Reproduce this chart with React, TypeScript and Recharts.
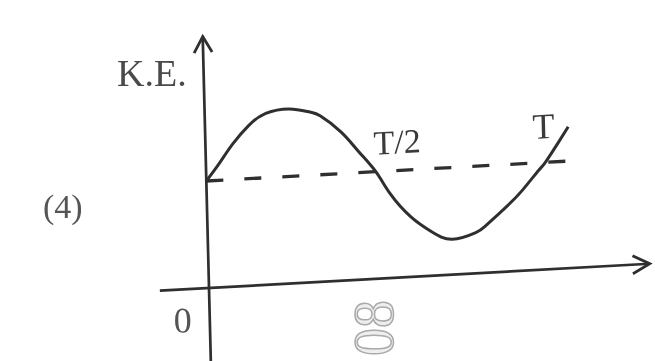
import React from 'react'
import { ComposedChart, Line, XAxis, YAxis, ReferenceLine, ReferenceDot } from 'recharts'

// time as a fraction of the period T, kinetic energy relative to the dashed mean level
const TIME = [0, 0.04, 0.08, 0.13, 0.18, 0.25, 0.31, 0.34, 0.4, 0.45, 0.5, 0.54, 0.6, 0.66, 0.72, 0.79, 0.82, 0.88, 0.93, 0.98, 1.0, 1.04, 1.07]
const KE = [1.0, 1.16, 1.33, 1.5, 1.6, 1.63, 1.59, 1.55, 1.39, 1.2, 1.0, 0.79, 0.56, 0.41, 0.33, 0.38, 0.44, 0.6, 0.75, 0.93, 1.0, 1.18, 1.32]

const MEAN_KE = 1
const DASH_END = 1.11
const X_AXIS_RANGE = [-0.145, 1.3]
const Y_AXIS_RANGE = [-0.7, 2.35]
const TICKS = [
  { t: 0.5, label: 'T/2' },
  { t: 1, label: 'T' }
]
const ORIGIN_LABEL = '0'
const Y_LABEL = 'K.E.'
const OPTION_LABEL = '(4)'
const PAGE_MARK = '08'

const X_DOMAIN = [-0.6165, 1.3156]
const Y_DOMAIN = [-0.6822, 2.6916]

const INK = '#2f2f2f'
const SERIF = '"Liberation Serif", "DejaVu Serif", serif'

const curve = TIME.map((t, i) => ({ t, ke: KE[i] }))

function arrowLine(back: number, half: number) {
  return (p: any) => {
    const { x1, y1, x2, y2 } = p
    const len = Math.hypot(x2 - x1, y2 - y1) || 1
    const ux = (x2 - x1) / len
    const uy = (y2 - y1) / len
    const bx = x2 - ux * back
    const by = y2 - uy * back
    const pts = `${bx - uy * half},${by + ux * half} ${x2},${y2} ${bx + uy * half},${by - ux * half}`
    return (
      <g>
        <line x1={x1} y1={y1} x2={x2} y2={y2} stroke={INK} strokeWidth={2.7} />
        <polyline points={pts} fill="none" stroke={INK} strokeWidth={2.8} strokeLinejoin="miter" />
      </g>
    )
  }
}

function textAt(text: string, dx: number, dy: number, size: number, color: string) {
  return (p: any) => (
    <text x={p.cx + dx} y={p.cy + dy} textAnchor="middle" fontFamily={SERIF} fontSize={size} fill={color}>
      {text}
    </text>
  )
}

export default function App() {
  return (
    <div style={{ position: 'absolute', left: 0, top: 0, width: 655, height: 361, background: '#fff', overflow: 'hidden', filter: 'blur(0.5px)' }}>
      <div
        style={{
          position: 'absolute',
          left: 0,
          top: 0,
          transform: 'matrix(1, -0.055, 0.025, 1, 0, 0)',
          transformOrigin: '209px 288px'
        }}
      >
        <ComposedChart width={655} height={361} margin={{ top: 0, right: 0, bottom: 0, left: 0 }}>
          <XAxis type="number" dataKey="t" domain={X_DOMAIN} hide />
          <YAxis type="number" dataKey="ke" domain={Y_DOMAIN} hide />
          <ReferenceLine
            segment={[{ x: X_AXIS_RANGE[0], y: 0 }, { x: X_AXIS_RANGE[1], y: 0 }]}
            ifOverflow="visible"
            shape={arrowLine(17, 9)}
          />
          <ReferenceLine
            segment={[{ x: 0, y: Y_AXIS_RANGE[0] }, { x: 0, y: Y_AXIS_RANGE[1] }]}
            ifOverflow="visible"
            shape={arrowLine(16, 9)}
          />
          <ReferenceLine
            segment={[{ x: 0, y: MEAN_KE }, { x: DASH_END, y: MEAN_KE }]}
            ifOverflow="visible"
            stroke={INK}
            strokeWidth={3.3}
            strokeDasharray="17 21"
          />
          <Line
            data={curve}
            dataKey="ke"
            type="natural"
            stroke={INK}
            strokeWidth={3}
            dot={false}
            activeDot={false}
            isAnimationActive={false}
          />
          {TICKS.map(tk => (
            <ReferenceDot
              key={tk.label}
              x={tk.t}
              y={MEAN_KE}
              r={0}
              ifOverflow="visible"
              shape={tk.t === 1 ? textAt(tk.label, -1, -24, 36, '#3a3a3a') : textAt(tk.label, 22, -17, 34, '#3a3a3a')}
            />
          ))}
          <ReferenceDot x={0} y={0} r={0} ifOverflow="visible" shape={textAt(ORIGIN_LABEL, -27, 43, 36, '#555')} />
        </ComposedChart>
      </div>
      <svg width={655} height={361} style={{ position: 'absolute', left: 0, top: 0 }}>
        <text x={117} y={86} fontFamily={SERIF} fontSize={38} fill="#4a4a4a">{Y_LABEL}</text>
        <text x={43} y={218} fontFamily={SERIF} fontSize={34} fill="#555">{OPTION_LABEL}</text>
        <text
          x={374}
          y={328}
          transform="rotate(-90 374 328)"
          textAnchor="middle"
          dominantBaseline="central"
          fontFamily={SERIF}
          fontSize={56}
          fill="#eeeeee"
          stroke="#aaaaaa"
          strokeWidth={1.5}
        >
          {PAGE_MARK}
        </text>
      </svg>
    </div>
  )
}
